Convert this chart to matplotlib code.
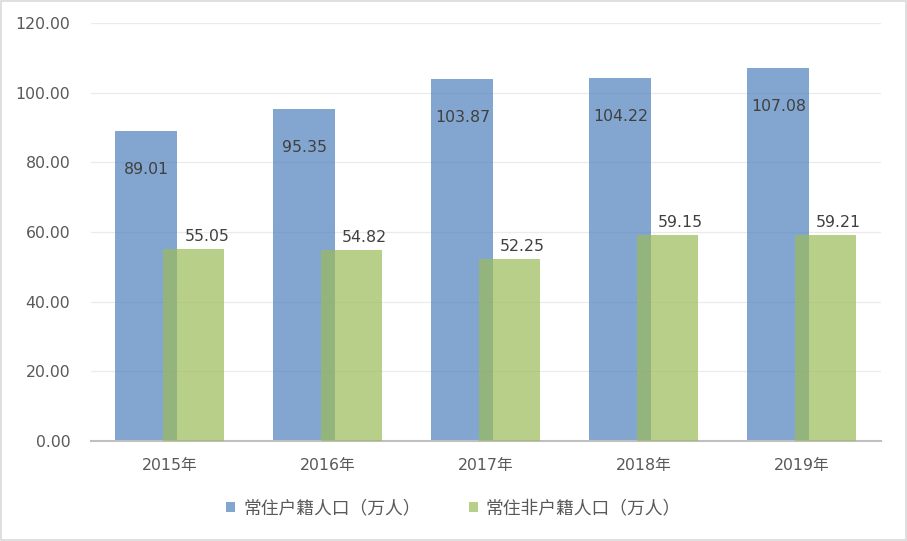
import matplotlib
matplotlib.use('Agg')
import matplotlib.pyplot as plt
import numpy as np

plt.rcParams['font.family'] = ['DejaVu Sans', 'Noto Sans CJK SC']

years = ['2015年', '2016年', '2017年', '2018年', '2019年']
huji = [89.01, 95.35, 103.87, 104.22, 107.08]
feihuji = [55.05, 54.82, 52.25, 59.15, 59.21]
series_names = ['常住户籍人口（万人）', '常住非户籍人口（万人）']

fig = plt.figure(figsize=(9.07, 5.41), dpi=100)
ax = fig.add_axes([0.1003, 0.1848, 0.8710, 0.7727])

x = np.arange(len(years))
w = 0.392
off = 0.149
b1 = ax.bar(x - off, huji, w, color='#4F81BD', alpha=0.7, label=series_names[0], zorder=2)
b2 = ax.bar(x + off, feihuji, w, color='#9BBB59', alpha=0.7, label=series_names[1], zorder=3)

# blue labels sit inside the bar, green ones just above
for xi, v in zip(x, huji):
    ax.annotate(f'{v:.2f}', (xi - off, v), xytext=(0, -27.5), textcoords='offset points',
                ha='center', va='center', fontsize=11.3, color='#404040', zorder=4)
for xi, v in zip(x, feihuji):
    ax.annotate(f'{v:.2f}', (xi + off, v), xytext=(9.5, 9), textcoords='offset points',
                ha='center', va='center', fontsize=11.3, color='#404040', zorder=4)

ax.set_xlim(-0.5, 4.5)
ax.set_ylim(0, 120)
ax.set_yticks(np.arange(0, 121, 20))
ax.set_yticklabels([f'{t:.2f}' for t in np.arange(0, 121, 20)])
ax.set_xticks(x)
ax.set_xticklabels(years)
ax.tick_params(axis='both', length=0, labelsize=11.3, colors='#595959')
ax.tick_params(axis='y', pad=15)
ax.tick_params(axis='x', pad=12)
ax.grid(axis='y', color='#EBEBEB', linewidth=0.9, zorder=0)
ax.set_axisbelow(True)
for s in ['top', 'right', 'left']:
    ax.spines[s].set_visible(False)
ax.spines['bottom'].set_color('#BFBFBF')
ax.spines['bottom'].set_linewidth(1.5)

leg = fig.legend(handles=[b1, b2], loc='center', bbox_to_anchor=(0.5, 0.06), ncol=2,
                 frameon=False, prop={'family': 'Noto Sans CJK SC', 'size': 12.8},
                 handlelength=0.5, handleheight=0.5, columnspacing=2.7,
                 handletextpad=0.45, labelcolor='#595959')

fig.patches.append(plt.Rectangle((0.0015, 0.002), 0.997, 0.996, transform=fig.transFigure,
                                 fill=False, edgecolor='#D9D9D9', linewidth=1.2))

fig.savefig('out.png', dpi=100)
